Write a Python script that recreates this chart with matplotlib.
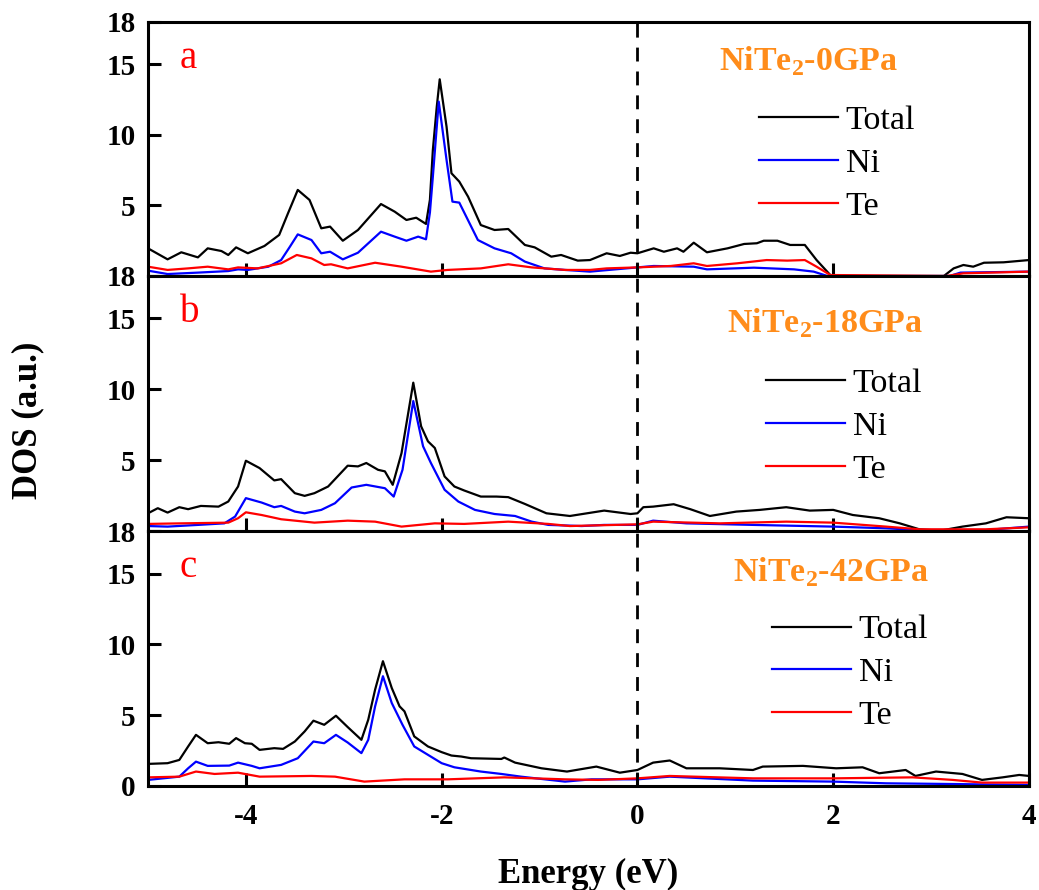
import matplotlib
matplotlib.use("Agg")
import matplotlib.pyplot as plt

plt.rcParams['font.family'] = ['Liberation Serif', 'DejaVu Serif']
plt.rcParams['mathtext.fontset'] = 'custom'
plt.rcParams['mathtext.rm'] = 'Liberation Serif:bold'
plt.rcParams['mathtext.bf'] = 'Liberation Serif:bold'

# ---------------- data ----------------
a_tot_x = [-5, -4.80, -4.66, -4.49, -4.39, -4.25, -4.18, -4.10, -3.98, -3.81, -3.66, -3.57, -3.47, -3.35, -3.23, -3.14, -3.01, -2.855, -2.62, -2.48, -2.36, -2.26, -2.16, -2.12, -2.09, -2.05, -2.02, -1.95, -1.90, -1.82, -1.73, -1.60, -1.46, -1.32, -1.15, -1.05, -0.88, -0.78, -0.61, -0.485, -0.315, -0.18, -0.07, 0.0, 0.166, 0.27, 0.405, 0.47, 0.575, 0.71, 0.92, 1.09, 1.22, 1.29, 1.43, 1.56, 1.71, 1.83, 1.97, 2.03, 3.13, 3.23, 3.33, 3.43, 3.54, 3.74, 4.0]
a_tot_y = [1.96, 1.18, 1.68, 1.32, 1.96, 1.77, 1.49, 2.03, 1.61, 2.13, 2.91, 4.44, 6.10, 5.39, 3.38, 3.50, 2.50, 3.26, 5.10, 4.56, 3.97, 4.13, 3.69, 5.40, 8.93, 12.0, 13.94, 10.58, 7.28, 6.69, 5.62, 3.61, 3.26, 3.33, 2.20, 2.03, 1.37, 1.49, 1.09, 1.13, 1.61, 1.42, 1.65, 1.61, 1.96, 1.72, 1.96, 1.72, 2.36, 1.68, 1.96, 2.27, 2.32, 2.50, 2.50, 2.20, 2.20, 1.13, 0.07, 0.0, 0.0, 0.54, 0.78, 0.66, 0.94, 0.97, 1.13]
a_ni_x = [-5, -4.80, -4.49, -4.18, -4.08, -3.98, -3.77, -3.64, -3.55, -3.47, -3.33, -3.23, -3.14, -3.01, -2.855, -2.62, -2.48, -2.36, -2.24, -2.16, -2.12, -2.09, -2.03, -1.95, -1.89, -1.82, -1.63, -1.46, -1.29, -1.15, -0.95, -0.74, -0.485, 0.0, 0.166, 0.575, 0.71, 1.19, 1.60, 1.80, 1.94, 3.19, 3.30, 4.0]
a_ni_y = [0.38, 0.14, 0.24, 0.35, 0.47, 0.43, 0.66, 1.13, 2.08, 2.95, 2.55, 1.61, 1.72, 1.18, 1.65, 3.14, 2.79, 2.50, 2.79, 2.60, 4.5, 7.04, 12.36, 8.22, 5.27, 5.20, 2.55, 1.96, 1.61, 1.02, 0.54, 0.43, 0.31, 0.61, 0.71, 0.66, 0.47, 0.59, 0.47, 0.31, 0.0, 0.0, 0.24, 0.31]
a_te_x = [-5, -4.80, -4.59, -4.39, -4.18, -4.08, -3.88, -3.64, -3.48, -3.33, -3.20, -3.13, -2.96, -2.68, -2.41, -2.11, -1.94, -1.60, -1.32, -1.08, -0.74, -0.485, -0.315, 0.0, 0.34, 0.575, 0.71, 1.02, 1.32, 1.53, 1.71, 1.83, 1.97, 3.16, 3.33, 4.0]
a_te_y = [0.66, 0.43, 0.54, 0.66, 0.47, 0.61, 0.54, 0.90, 1.49, 1.25, 0.78, 0.83, 0.54, 0.94, 0.66, 0.31, 0.43, 0.54, 0.83, 0.61, 0.43, 0.43, 0.54, 0.61, 0.71, 0.90, 0.71, 0.90, 1.13, 1.09, 1.13, 0.66, 0.07, 0.0, 0.19, 0.31]

b_tot_x = [-5, -4.90, -4.80, -4.68, -4.59, -4.46, -4.28, -4.18, -4.08, -4.00, -3.86, -3.71, -3.64, -3.50, -3.40, -3.30, -3.16, -2.96, -2.855, -2.77, -2.65, -2.58, -2.50, -2.41, -2.29, -2.21, -2.14, -2.07, -1.97, -1.87, -1.77, -1.60, -1.44, -1.32, -1.15, -0.93, -0.69, -0.34, -0.07, 0.0, 0.06, 0.16, 0.37, 0.54, 0.74, 1.01, 1.25, 1.52, 1.76, 2.0, 2.20, 2.47, 2.68, 2.88, 3.09, 3.32, 3.56, 3.77, 4.0]
b_tot_y = [1.25, 1.61, 1.30, 1.68, 1.54, 1.77, 1.72, 2.08, 3.14, 4.96, 4.44, 3.57, 3.66, 2.67, 2.48, 2.67, 3.14, 4.61, 4.56, 4.80, 4.32, 4.21, 3.26, 5.50, 10.47, 7.39, 6.33, 5.86, 3.85, 3.14, 2.86, 2.43, 2.43, 2.39, 1.91, 1.25, 1.06, 1.44, 1.20, 1.25, 1.68, 1.72, 1.89, 1.54, 1.06, 1.37, 1.49, 1.68, 1.44, 1.49, 1.13, 0.90, 0.54, 0.12, 0.02, 0.31, 0.54, 0.97, 0.90]
b_ni_x = [-5, -4.80, -4.49, -4.22, -4.11, -4.00, -3.84, -3.71, -3.64, -3.50, -3.40, -3.23, -3.09, -2.92, -2.77, -2.58, -2.49, -2.40, -2.29, -2.19, -2.11, -1.97, -1.83, -1.66, -1.46, -1.25, -1.08, -0.91, -0.57, -0.34, 0.0, 0.16, 0.50, 1.18, 2.0, 2.54, 2.88, 3.56, 4.0]
b_ni_y = [0.35, 0.31, 0.43, 0.54, 1.02, 2.32, 2.01, 1.68, 1.77, 1.37, 1.25, 1.49, 1.96, 3.07, 3.26, 3.02, 2.43, 4.32, 9.17, 5.98, 4.80, 2.91, 2.08, 1.49, 1.20, 1.06, 0.66, 0.43, 0.35, 0.43, 0.43, 0.73, 0.54, 0.43, 0.31, 0.19, 0.07, 0.07, 0.31]
b_te_x = [-5, -4.66, -4.18, -4.08, -4.00, -3.84, -3.64, -3.30, -2.96, -2.68, -2.41, -2.07, -1.77, -1.32, -0.91, -0.69, 0.0, 0.16, 0.84, 1.52, 2.0, 2.54, 2.88, 3.56, 4.0]
b_te_y = [0.50, 0.54, 0.59, 0.90, 1.32, 1.13, 0.83, 0.59, 0.73, 0.66, 0.31, 0.54, 0.50, 0.66, 0.50, 0.35, 0.47, 0.66, 0.54, 0.66, 0.59, 0.31, 0.12, 0.12, 0.26]

c_tot_x = [-5, -4.80, -4.68, -4.59, -4.51, -4.39, -4.28, -4.17, -4.10, -4.01, -3.94, -3.86, -3.71, -3.62, -3.50, -3.40, -3.31, -3.20, -3.08, -2.96, -2.82, -2.75, -2.68, -2.60, -2.51, -2.43, -2.38, -2.28, -2.14, -2.00, -1.90, -1.80, -1.70, -1.39, -1.36, -1.25, -0.98, -0.72, -0.42, -0.18, 0.0, 0.16, 0.33, 0.50, 0.84, 1.18, 1.28, 1.69, 2.03, 2.30, 2.47, 2.74, 2.84, 3.05, 3.32, 3.52, 3.73, 3.90, 4.0]
c_tot_y = [1.56, 1.61, 1.84, 2.79, 3.61, 3.02, 3.09, 2.98, 3.38, 3.02, 2.98, 2.55, 2.67, 2.62, 3.14, 3.85, 4.61, 4.32, 4.96, 4.16, 3.26, 4.68, 6.80, 8.81, 6.92, 5.62, 5.27, 3.50, 2.79, 2.39, 2.15, 2.08, 1.96, 1.91, 2.01, 1.65, 1.25, 1.02, 1.37, 0.94, 1.13, 1.65, 1.80, 1.25, 1.25, 1.13, 1.37, 1.42, 1.25, 1.32, 0.90, 1.13, 0.71, 1.02, 0.85, 0.43, 0.61, 0.78, 0.71]
c_ni_x = [-5, -4.68, -4.59, -4.51, -4.39, -4.17, -4.08, -3.94, -3.86, -3.64, -3.47, -3.31, -3.20, -3.08, -2.96, -2.82, -2.75, -2.68, -2.60, -2.51, -2.40, -2.28, -2.14, -2.00, -1.87, -1.60, -1.39, -1.19, -0.74, -0.47, 0.0, 0.33, 1.18, 2.0, 2.54, 3.22, 4.0]
c_ni_y = [0.43, 0.66, 1.25, 1.72, 1.42, 1.44, 1.65, 1.42, 1.25, 1.49, 1.96, 3.14, 3.02, 3.61, 3.07, 2.32, 3.26, 5.62, 7.75, 5.86, 4.32, 2.79, 2.20, 1.61, 1.32, 1.02, 0.85, 0.66, 0.31, 0.47, 0.47, 0.66, 0.38, 0.31, 0.19, 0.14, 0.07]
c_te_x = [-5, -4.68, -4.51, -4.32, -4.08, -3.86, -3.33, -3.09, -2.79, -2.38, -1.94, -1.36, -0.74, -0.40, 0.0, 0.33, 1.18, 2.0, 2.81, 3.22, 3.52, 4.0]
c_te_y = [0.61, 0.66, 1.02, 0.85, 0.94, 0.66, 0.71, 0.66, 0.31, 0.47, 0.47, 0.61, 0.47, 0.43, 0.54, 0.71, 0.54, 0.54, 0.61, 0.43, 0.24, 0.24]

panel_letters = ['a', 'b', 'c']
panel_titles = ['NiTe$_{2}$-0GPa', 'NiTe$_{2}$-18GPa', 'NiTe$_{2}$-42GPa']
series_labels = ['Total', 'Ni', 'Te']
series_colors = ['black', '#0000FF', '#FF0000']
x_ticks = [-4, -2, 0, 2, 4]
y_ticks = [0, 5, 10, 15, 18]

panels = [
    [(a_tot_x, a_tot_y), (a_ni_x, a_ni_y), (a_te_x, a_te_y)],
    [(b_tot_x, b_tot_y), (b_ni_x, b_ni_y), (b_te_x, b_te_y)],
    [(c_tot_x, c_tot_y), (c_ni_x, c_ni_y), (c_te_x, c_te_y)],
]

# ---------------- layout ----------------
W, H = 1039, 890
fig = plt.figure(figsize=(W / 100, H / 100), dpi=100)
left = 148 / W
width = (1029 - 148) / W
tops_px = [22, 276, 531]
bots_px = [276, 531, 786]
title_pos = [(0.648, 0.811), (0.657, 0.780), (0.664, 0.803)]
legend_pos = [(0.6935, 0.672), (0.7015, 0.637), (0.708, 0.672)]

orange = '#FF8C1A'

for i in range(3):
    b = 1 - bots_px[i] / H
    h = (bots_px[i] - tops_px[i]) / H
    ax = fig.add_axes([left, b, width, h])
    for (xs, ys), lab, col in zip(panels[i], series_labels, series_colors):
        ax.plot(xs, ys, color=col, lw=1.6, label=lab)
    ax.axvline(0, color='black', lw=2.0, dashes=(5, 3.6))
    ax.set_xlim(-5, 4)
    ax.set_ylim(0, 18)
    for s in ax.spines.values():
        s.set_linewidth(2.2)
    ax.tick_params(direction='in', length=9.5, width=2.2, top=False, right=False)
    ax.set_xticks(x_ticks)
    if i == 2:
        ax.set_xticklabels([str(t) for t in x_ticks], fontsize=21, fontweight='bold')
        ax.tick_params(axis='x', pad=12)
    else:
        ax.set_xticklabels([])
    ylabs = [str(t) for t in y_ticks]
    if i < 2:
        ylabs[0] = ''
    ax.set_yticks(y_ticks)
    ax.set_yticklabels(ylabs, fontsize=21, fontweight='bold')
    ax.tick_params(axis='y', pad=9)
    ax.text(0.036, 0.819, panel_letters[i], transform=ax.transAxes, color='red',
            fontsize=28, ha='left', va='baseline')
    ax.text(title_pos[i][0], title_pos[i][1], panel_titles[i], transform=ax.transAxes,
            color=orange, fontsize=24.5, fontweight='bold', ha='left', va='baseline')
    ax.legend(loc='upper left', bbox_to_anchor=legend_pos[i], frameon=False,
              fontsize=24.5, handlelength=2.32, handletextpad=0.23,
              labelspacing=0.35, borderpad=0, borderaxespad=0)

fig.text(28 / W, 1 - 420 / H, 'DOS (a.u.)', rotation=90, fontsize=25,
         fontweight='bold', ha='center', va='center')
fig.text(588.5 / W, 1 - 883 / H, 'Energy (eV)', fontsize=25,
         fontweight='bold', ha='center', va='baseline')

fig.savefig('out.png', dpi=100)
